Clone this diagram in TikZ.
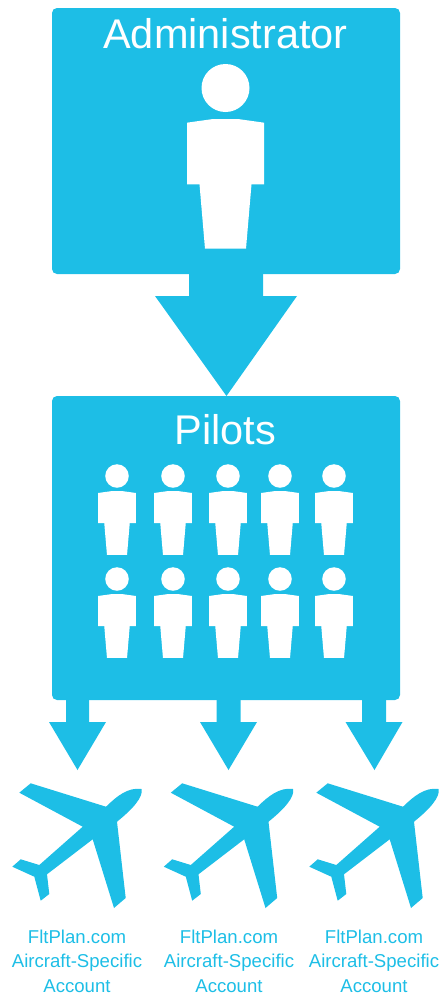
\documentclass[tikz,border=0pt]{standalone}
\usepackage{fontspec}
\setmainfont{Liberation Sans}
\usetikzlibrary{calc}
\definecolor{skyblue}{HTML}{1DBEE6}

\tikzset{
    panel/.style={fill=skyblue, rounded corners=5pt, inner sep=0pt},
    heading/.style={text=white, anchor=base, inner sep=0pt, font=\fontsize{41.5}{41.5}\selectfont},
    caption/.style={text=skyblue, align=center, inner sep=0pt, font=\fontsize{18.6}{24.6}\selectfont},
    pics/person/.style={code={
        \fill[white] (0,0) circle (24);
        \fill[white] (-38.5,34.7) -- (-12.5,31) -- (12.5,31) -- (38.5,34.7) -- (38.5,96.3) -- (26,96.3)
            -- (20.5,160.7) -- (-20.5,160.7) -- (-26,96.3) -- (-38.5,96.3) -- cycle;
    }},
    pics/plane/.style={code={
        \fill[skyblue] (141.7,789) .. controls (143,797) and (134,808) .. (117,821.7) -- (125.7,898) -- (114,908)
            -- (92.7,839.3) -- (47,874.3) -- (49.3,894) -- (40.7,900.7) -- (34.3,876.7) -- (12.3,866.7)
            -- (20.7,859.3) -- (39.3,865) -- (82.7,826.7) -- (19.3,792.7) -- (30.7,783.3) -- (106,806.7)
            .. controls (117,796) and (128,787) .. cycle;
    }}
}

% start, tip, half shaft, half head, shaft length
\newcommand{\blockarrow}[5]{
    \fill[skyblue] ($(#1)+(-#3,-2)$) -- ($(#1)+(#3,-2)$) -- ($(#1)+(#3,#5)$) -- ($(#1)+(#4,#5)$) -- (#2)
        -- ($(#1)+(-#4,#5)$) -- ($(#1)+(-#3,#5)$) -- cycle;
}

\begin{document}
\begin{tikzpicture}[x=1pt, y=-1pt]
            \useasboundingbox (0,0) rectangle (440,997);

            \node[panel, minimum width=348pt, minimum height=266pt] (Admin)  at (226,141) {};
            \node[panel, minimum width=348pt, minimum height=304pt] (Pilots) at (226,548) {};

            \node[heading] (AdminText)  at (225.5,48)  {Administrator};
            \node[heading] (PilotsText) at (225.5,444) {Pilots};

            \coordinate (AdminOut) at (226,274);
            \coordinate (PilotsIn) at (226.5,396);
            \coordinate (OutA) at (77.5,700);
            \coordinate (OutB) at (228.5,700);
            \coordinate (OutC) at (374,700);
            \coordinate (TipA) at (77.5,770);
            \coordinate (TipB) at (228.5,770);
            \coordinate (TipC) at (374.5,770);

            \blockarrow{AdminOut}{PilotsIn}{37}{71}{22}
            \blockarrow{OutA}{TipA}{11.5}{28.5}{22}
            \blockarrow{OutB}{TipB}{12}{28.5}{22}
            \blockarrow{OutC}{TipC}{12}{28.5}{22}

            \pic (Boss) at (225.5,88) {person};

            \pic[scale=0.49] (PilotA) at (117,476) {person};
            \pic[scale=0.49] (PilotB) at (173,476) {person};
            \pic[scale=0.49] (PilotC) at (228,476) {person};
            \pic[scale=0.49] (PilotD) at (280,476) {person};
            \pic[scale=0.49] (PilotE) at (334,476) {person};

            \pic[scale=0.49] (PilotF) at (117,579) {person};
            \pic[scale=0.49] (PilotG) at (173,579) {person};
            \pic[scale=0.49] (PilotH) at (228,579) {person};
            \pic[scale=0.49] (PilotI) at (280,579) {person};
            \pic[scale=0.49] (PilotJ) at (334,579) {person};

            \pic (PlaneA) at (0,0) {plane};
            \pic (PlaneB) at (151.5,0) {plane};
            \pic (PlaneC) at (297,0) {plane};

            \node[caption] (LabelA) at (77,961)  {FltPlan.com\\Aircraft-Specific\\Account};
            \node[caption] (LabelB) at (229,961) {FltPlan.com\\Aircraft-Specific\\Account};
            \node[caption] (LabelC) at (374,961) {FltPlan.com\\Aircraft-Specific\\Account};
        \end{tikzpicture}
\end{document}
